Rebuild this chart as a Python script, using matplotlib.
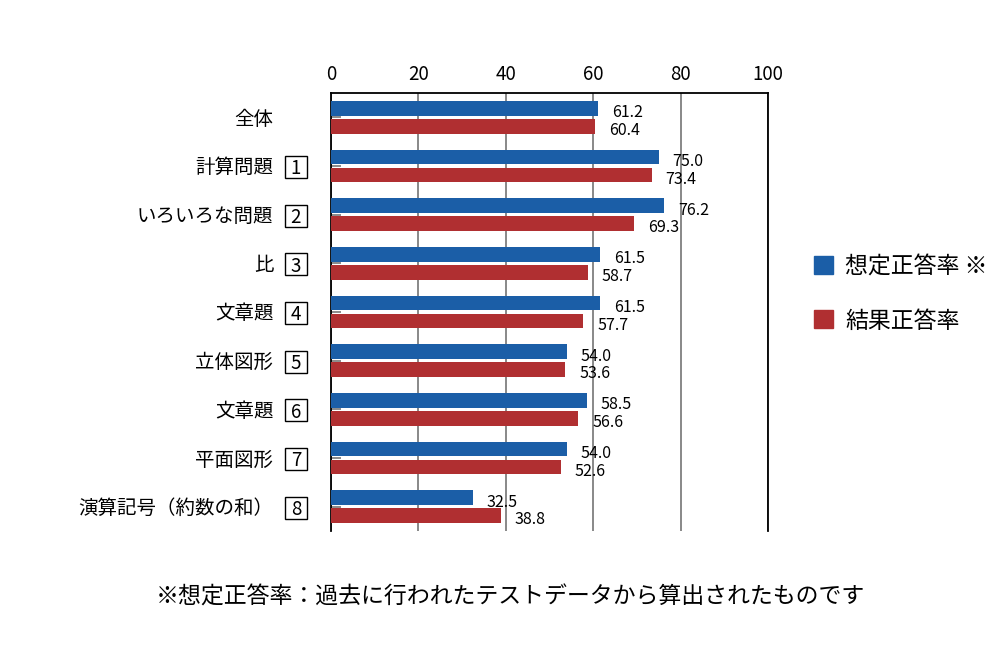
import matplotlib
matplotlib.use('Agg')
import matplotlib.pyplot as plt
from matplotlib.patches import Rectangle
import numpy as np

plt.rcParams['font.family'] = ['Noto Sans CJK JP', 'DejaVu Sans']

categories = ['全体', '計算問題', 'いろいろな問題', '比', '文章題',
              '立体図形', '文章題', '平面図形', '演算記号（約数の和）']
numbers = ['', '1', '2', '3', '4', '5', '6', '7', '8']
expected = [61.2, 75.0, 76.2, 61.5, 61.5, 54.0, 58.5, 54.0, 32.5]
actual = [60.4, 73.4, 69.3, 58.7, 57.7, 53.6, 56.6, 52.6, 38.8]
xticks = [0, 20, 40, 60, 80, 100]

blue = '#1b5ea7'
red = '#b02f31'

fig = plt.figure(figsize=(10, 6.6), dpi=100)
ax = fig.add_axes([0.331, 0.1955, 0.437, 0.6636])

y = np.arange(len(categories))
h = 0.30
off = 0.183
ax.barh(y - off, expected, height=h, color=blue, zorder=3)
ax.barh(y + off, actual, height=h, color=red, zorder=3)

for i in range(len(categories)):
    ax.annotate(f'{expected[i]:.1f}', (expected[i], y[i] - off + 0.09), xytext=(10, 0),
                textcoords='offset points', va='center', ha='left', fontsize=11.5)
    ax.annotate(f'{actual[i]:.1f}', (actual[i], y[i] + off + 0.09), xytext=(10, 0),
                textcoords='offset points', va='center', ha='left', fontsize=11.5)

ax.set_xlim(0, 100)
ax.set_ylim(len(categories) - 0.5, -0.5)
ax.set_xticks(xticks)
ax.xaxis.tick_top()
ax.tick_params(axis='x', length=0, pad=6, labelsize=13.5)
ax.set_yticks(y)
ax.set_yticklabels([])
ax.tick_params(axis='y', direction='in', length=7, width=1.2, color='#777777')
ax.grid(axis='x', color='#7f7f7f', linewidth=1.3, zorder=0)
ax.spines['bottom'].set_visible(False)
for s in ['top', 'left', 'right']:
    ax.spines[s].set_linewidth(1.3)
    ax.spines[s].set_color('black')

tr = ax.get_yaxis_transform()
bw = 22 / 437
bh = 22 / 48.67
for i, (c, n) in enumerate(zip(categories, numbers)):
    ax.text(-0.132, y[i] + 0.04, c, transform=tr, ha='right', va='center', fontsize=14)
    if n:
        ax.add_patch(Rectangle((-0.0805 - bw / 2, y[i] + 0.02 - bh / 2), bw, bh, transform=tr,
                               fc='white', ec='black', lw=1.0, clip_on=False))
        ax.text(-0.0805, y[i] + 0.06, n, transform=tr, ha='center', va='center', fontsize=13.5)

# legend
fig.patches.append(Rectangle((0.814, 1 - 274 / 660), 0.019, 18 / 660, color=blue,
                             transform=fig.transFigure))
fig.patches.append(Rectangle((0.814, 1 - 328 / 660), 0.019, 18 / 660, color=red,
                             transform=fig.transFigure))
fig.text(0.845, 1 - 267 / 660, '想定正答率 ※', ha='left', va='center', fontsize=16.5)
fig.text(0.845, 1 - 321 / 660, '結果正答率', ha='left', va='center', fontsize=16.5)

fig.text(0.51, 1 - 597 / 660, '※想定正答率：過去に行われたテストデータから算出されたものです',
         ha='center', va='center', fontsize=16.5)

plt.savefig('out.png', dpi=100)
